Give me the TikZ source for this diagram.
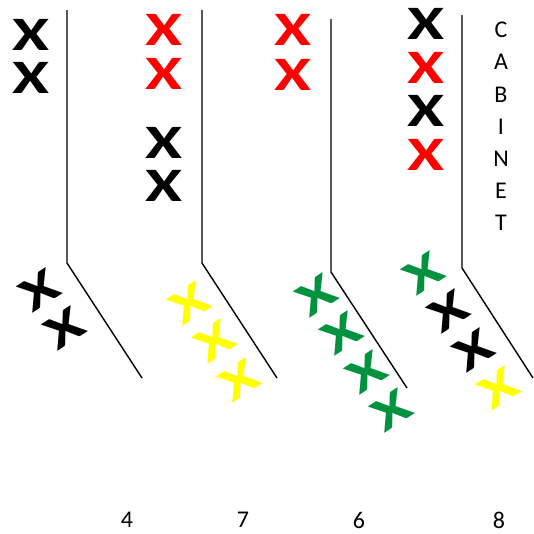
\documentclass[tikz,border=0pt]{standalone}
\usepackage{fontspec}
\setmainfont{Carlito}
\usepackage{graphicx}
\definecolor{xgreen}{RGB}{0,146,63}
\definecolor{xyellow}{RGB}{255,255,0}

\newcommand{\cross}{\scalebox{1.4}[1]{X}}

\begin{document}
\begin{tikzpicture}[x=1pt,y=-1pt,
		xx/.style={font=\bfseries\fontsize{48}{48}\selectfont,inner sep=0pt},
		tilt/.style={xx,rotate=33},
		lab/.style={font=\fontsize{24}{24}\selectfont,inner sep=0pt},
		wall/.style={line width=1.4pt}]
			\useasboundingbox (0,0) rectangle (534,533);
			
			% walls
			
			\draw[wall] (67,10) -- (67,263) -- (142,378);
			\draw[wall] (202,10) -- (202,263) -- (277,378);
			\draw[wall] (331,19) -- (331,272) -- (407,388);
			\draw[wall] (462,15) -- (462,268) -- (533,378);
			
			% 4
			
			\node[xx] (A1) at (31,35) {\cross};
			\node[xx] (A2) at (31,78) {\cross};
			\foreach \i in {1,2} {
				\node[tilt] (a\i) at ({40+25*(\i-1)},{290+38.5*(\i-1)}) {\cross};
			}
			
			% 7
			
			\foreach \i/\y/\c in {1/30/red,2/74/red,3/143/black,4/186/black} {
				\node[xx,\c] (B\i) at (164,\y) {\cross};
			}
			\foreach \i in {1,2,3} {
				\node[tilt,xyellow] (b\i) at ({190+25*(\i-1)},{303+38.5*(\i-1)}) {\cross};
			}
			
			% 6
			
			\node[xx,red] (C1) at (293,30) {\cross};
			\node[xx,red] (C2) at (293,75) {\cross};
			\foreach \i in {1,...,4} {
				\node[tilt,xgreen] (c\i) at ({317+25*(\i-1)},{295+38.5*(\i-1)}) {\cross};
			}
			
			% 8
			
			\foreach \i/\y/\c in {1/24/black,2/68/red,3/111/black,4/155/red} {
				\node[xx,\c] (D\i) at (426,\y) {\cross};
			}
			\foreach \i/\c in {1/xgreen,2/black,3/black,4/xyellow} {
				\node[tilt,\c] (d\i) at ({424+25*(\i-1)},{273+38.5*(\i-1)}) {\cross};
			}
			
			% cabinet
			
			\foreach \l [count=\i] in {C,A,B,I,N,E,T} {
				\node[lab] (L\i) at (501,{30+32.2*(\i-1)}) {\l};
			}
			
			% numbers
			
			\node[lab] (N4) at (127,520) {4};
			\node[lab] (N7) at (243,520) {7};
			\node[lab] (N6) at (359,520) {6};
			\node[lab] (N8) at (499,520) {8};
		\end{tikzpicture}
\end{document}
